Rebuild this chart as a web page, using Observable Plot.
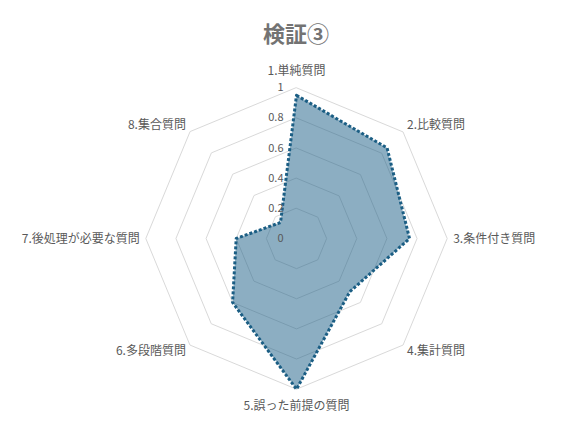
<!DOCTYPE html>
<html><head><meta charset="utf-8">
<script src="https://cdn.jsdelivr.net/npm/d3@7"></script>
<script src="https://cdn.jsdelivr.net/npm/@observablehq/plot@0.6"></script>
<style>
body{margin:0;background:#fff;font-family:"Noto Sans CJK JP","Noto Sans",sans-serif;}
#title{height:52px;box-sizing:border-box;padding-top:21px;padding-left:19px;width:573px;text-align:center;font-size:22px;line-height:22px;font-weight:bold;color:#737373;}
</style></head><body>
<div id="title"></div><div id="chart"></div>
<script>
const title = "検証③";
const categories = ["1.単純質問","2.比較質問","3.条件付き質問","4.集計質問","5.誤った前提の質問","6.多段階質問","7.後処理が必要な質問","8.集合質問"];
const values = [0.95, 0.85, 0.75, 0.5, 1.0, 0.6, 0.4, 0.15];
const ringLevels = [0.2, 0.4, 0.6, 0.8, 1];
const tickValues = [0, 0.2, 0.4, 0.6, 0.8, 1];
const tickLabels = ["0", "0.2", "0.4", "0.6", "0.8", "1"];

document.getElementById("title").textContent = title;

const W = 573, H = 372, R = 150.7, cx = 296, cy = 186;
const n = categories.length;
const ang = i => i * 2 * Math.PI / n;
const px = (i, r) => r * Math.sin(ang(i));
const py = (i, r) => r * Math.cos(ang(i));

const rings = ringLevels.flatMap(l => categories.map((c, i) => ({l, x: px(i, l), y: py(i, l)})));
const pts = values.map((v, i) => ({c: categories[i], x: px(i, v), y: py(i, v)}));
const ticks = tickValues.map((v, i) => ({v, label: tickLabels[i]}));

function labelPos(i) {
  const s = Math.sin(ang(i)), c = Math.cos(ang(i));
  const ox = Math.abs(s) < 1e-6 ? 0 : (Math.abs(c) < 1e-6 ? 6 : 4) * Math.sign(s);
  const oy = Math.abs(c) > 0.999 ? 17 * Math.sign(c) : (Math.abs(c) < 1e-6 ? -1 : 6.5 * Math.sign(c));
  return {x: s + ox / R, y: c + oy / R};
}
const labels = categories.map((c, i) => ({c, i, ...labelPos(i), s: Math.sin(ang(i))}));

const chart = Plot.plot({
  width: W, height: H,
  marginTop: 0, marginBottom: 0, marginLeft: 0, marginRight: 0,
  style: {fontFamily: '"Noto Sans CJK JP","Noto Sans",sans-serif', background: "#fff"},
  x: {domain: [-cx / R, (W - cx) / R], range: [0, W], axis: null},
  y: {domain: [-(H - cy) / R, cy / R], range: [H, 0], axis: null},
  marks: [
    Plot.line(rings, {x: "x", y: "y", z: "l", curve: "linear-closed", stroke: "#d9d9d9", strokeWidth: 1}),
    Plot.line(pts, {x: "x", y: "y", curve: "linear-closed", fill: "#1a5d86", fillOpacity: 0.5, stroke: "none"}),
    Plot.line(pts, {x: "x", y: "y", curve: "linear-closed", stroke: "#1b5e84", strokeWidth: 3, strokeDasharray: "3,2", strokeLinecap: "butt"}),
    Plot.text(ticks, {x: () => 0, y: "v", text: "label", textAnchor: "end", dx: -13, fontSize: 11, fill: "#595959"}),
    Plot.text(labels.filter(d => Math.abs(d.s) < 1e-6), {x: "x", y: "y", text: "c", textAnchor: "middle", fontSize: 12, fill: "#595959"}),
    Plot.text(labels.filter(d => d.s > 1e-6), {x: "x", y: "y", text: "c", textAnchor: "start", fontSize: 12, fill: "#595959"}),
    Plot.text(labels.filter(d => d.s < -1e-6), {x: "x", y: "y", text: "c", textAnchor: "end", fontSize: 12, fill: "#595959"})
  ]
});
document.getElementById("chart").appendChild(chart);
</script>
</body></html>
